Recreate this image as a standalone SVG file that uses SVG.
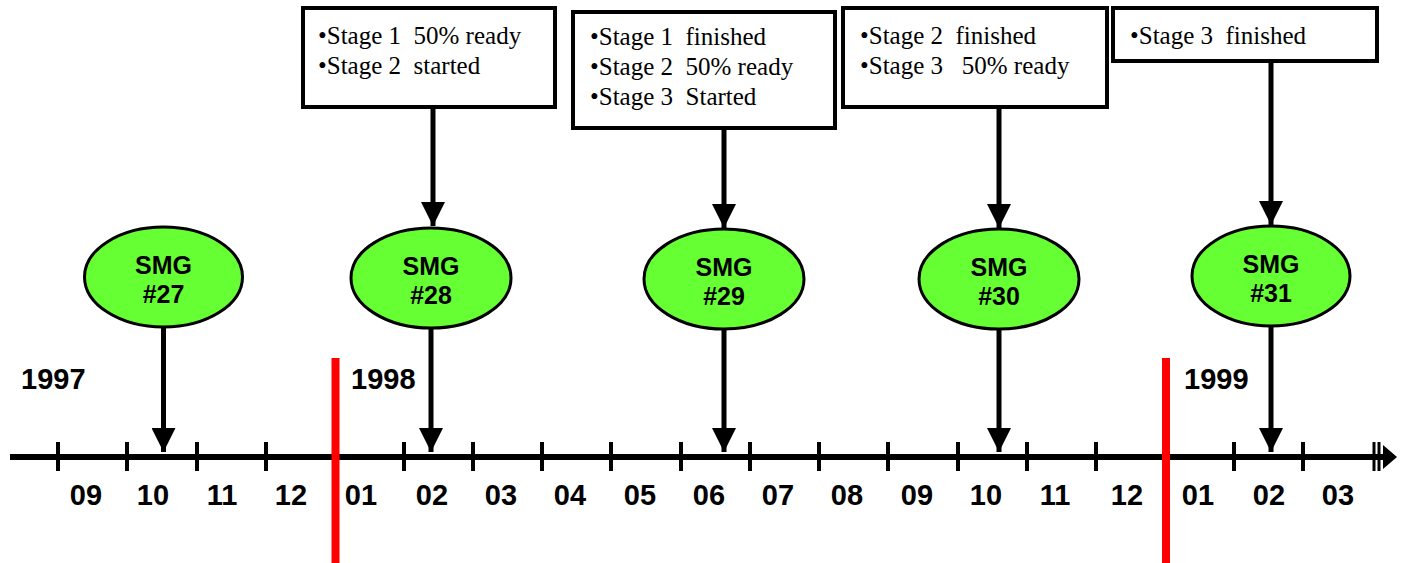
<svg xmlns="http://www.w3.org/2000/svg" width="1407" height="563" viewBox="0 0 1407 563">
<style>
.box{fill:#fff;stroke:#000;stroke-width:4}
.note{font-family:"Liberation Serif","Times New Roman",serif;font-size:25px;fill:#000}
.smg{fill:#66ff33;stroke:#000;stroke-width:3}
.lbl{font-family:"Liberation Sans",Arial,sans-serif;font-weight:bold;font-size:25px;fill:#000;text-anchor:middle}
.num{font-family:"Liberation Sans",Arial,sans-serif;font-weight:bold;font-size:29px;fill:#000;text-anchor:middle}
.yr{font-family:"Liberation Sans",Arial,sans-serif;font-weight:bold;font-size:29px;fill:#000}
.ln{stroke:#000;stroke-width:5;fill:none}
.tick{stroke:#000;stroke-width:4}
.red{stroke:#ff0000;stroke-width:8}
</style>
<defs>
<marker id="ah" markerUnits="userSpaceOnUse" viewBox="0 0 24 24" markerWidth="24" markerHeight="24" refX="24" refY="12" orient="auto">
<path d="M0,0 L24,12 L0,24 Z" fill="#000"/>
</marker>
</defs>

<g id="axis">
<line x1="10" y1="457" x2="1385" y2="457" stroke="#000" stroke-width="6"/>
<path d="M1383,445 L1397,457 L1383,469 Z" fill="#000"/>
<g class="tick">
<line x1="58" y1="442" x2="58" y2="471"/>
<line x1="127" y1="442" x2="127" y2="471"/>
<line x1="197" y1="442" x2="197" y2="471"/>
<line x1="266" y1="442" x2="266" y2="471"/>
<line x1="404" y1="442" x2="404" y2="471"/>
<line x1="473" y1="442" x2="473" y2="471"/>
<line x1="542" y1="442" x2="542" y2="471"/>
<line x1="611" y1="442" x2="611" y2="471"/>
<line x1="681" y1="442" x2="681" y2="471"/>
<line x1="750" y1="442" x2="750" y2="471"/>
<line x1="819" y1="442" x2="819" y2="471"/>
<line x1="888" y1="442" x2="888" y2="471"/>
<line x1="958" y1="442" x2="958" y2="471"/>
<line x1="1027" y1="442" x2="1027" y2="471"/>
<line x1="1096" y1="442" x2="1096" y2="471"/>
<line x1="1234" y1="442" x2="1234" y2="471"/>
<line x1="1303" y1="442" x2="1303" y2="471"/>
<line x1="1374" y1="442" x2="1374" y2="471" stroke-width="3"/>
<line x1="1379" y1="442" x2="1379" y2="471" stroke-width="3"/>
</g>
<line class="red" x1="335.5" y1="358" x2="335.5" y2="563"/>
<line class="red" x1="1166" y1="358" x2="1166" y2="563"/>
<g class="num">
<text x="86" y="505">09</text>
<text x="153" y="505">10</text>
<text x="222" y="505">11</text>
<text x="291" y="505">12</text>
<text x="361" y="505">01</text>
<text x="432" y="505">02</text>
<text x="501" y="505">03</text>
<text x="570" y="505">04</text>
<text x="640" y="505">05</text>
<text x="709" y="505">06</text>
<text x="778" y="505">07</text>
<text x="847" y="505">08</text>
<text x="917" y="505">09</text>
<text x="986" y="505">10</text>
<text x="1055" y="505">11</text>
<text x="1127" y="505">12</text>
<text x="1198" y="505">01</text>
<text x="1269" y="505">02</text>
<text x="1338" y="505">03</text>
</g>
<text class="yr" x="21" y="389">1997</text>
<text class="yr" x="351" y="389">1998</text>
<text class="yr" x="1184" y="389">1999</text>
</g>

<g id="connectors">
<line class="ln" x1="163.5" y1="327" x2="163.5" y2="452" marker-end="url(#ah)"/>
<line class="ln" x1="431" y1="328" x2="431" y2="452" marker-end="url(#ah)"/>
<line class="ln" x1="724" y1="329" x2="724" y2="452" marker-end="url(#ah)"/>
<line class="ln" x1="999" y1="329" x2="999" y2="452" marker-end="url(#ah)"/>
<line class="ln" x1="1271" y1="326" x2="1271" y2="452" marker-end="url(#ah)"/>
<line class="ln" x1="433" y1="108" x2="433" y2="226" marker-end="url(#ah)"/>
<line class="ln" x1="724" y1="128" x2="724" y2="228" marker-end="url(#ah)"/>
<line class="ln" x1="999" y1="108" x2="999" y2="228" marker-end="url(#ah)"/>
<line class="ln" x1="1271" y1="62" x2="1271" y2="225" marker-end="url(#ah)"/>
</g>

<g id="note1">
<rect class="box" x="303" y="8" width="252" height="99"/>
<text class="note" x="318" y="44" xml:space="preserve">•Stage 1  50% ready</text>
<text class="note" x="318" y="74" xml:space="preserve">•Stage 2  started</text>
</g>
<g id="note2">
<rect class="box" x="573" y="12" width="262" height="116"/>
<text class="note" x="590" y="45" xml:space="preserve">•Stage 1  finished</text>
<text class="note" x="590" y="75" xml:space="preserve">•Stage 2  50% ready</text>
<text class="note" x="590" y="105" xml:space="preserve">•Stage 3  Started</text>
</g>
<g id="note3">
<rect class="box" x="843" y="8" width="264" height="99"/>
<text class="note" x="860" y="44" xml:space="preserve">•Stage 2  finished</text>
<text class="note" x="860" y="74" xml:space="preserve">•Stage 3   50% ready</text>
</g>
<g id="note4">
<rect class="box" x="1113" y="8" width="264" height="53"/>
<text class="note" x="1130" y="44" xml:space="preserve">•Stage 3  finished</text>
</g>

<g id="smg27">
<ellipse class="smg" cx="163.5" cy="277" rx="79" ry="50"/>
<text class="lbl" x="163.5" y="274">SMG</text>
<text class="lbl" x="163.5" y="303">#27</text>
</g>
<g id="smg28">
<ellipse class="smg" cx="431" cy="278" rx="80" ry="50"/>
<text class="lbl" x="431" y="275">SMG</text>
<text class="lbl" x="431" y="304">#28</text>
</g>
<g id="smg29">
<ellipse class="smg" cx="724" cy="279" rx="80" ry="50"/>
<text class="lbl" x="724" y="276">SMG</text>
<text class="lbl" x="724" y="305">#29</text>
</g>
<g id="smg30">
<ellipse class="smg" cx="999" cy="279" rx="80" ry="50"/>
<text class="lbl" x="999" y="276">SMG</text>
<text class="lbl" x="999" y="305">#30</text>
</g>
<g id="smg31">
<ellipse class="smg" cx="1271" cy="276" rx="79" ry="50"/>
<text class="lbl" x="1271" y="273">SMG</text>
<text class="lbl" x="1271" y="302">#31</text>
</g>
</svg>
